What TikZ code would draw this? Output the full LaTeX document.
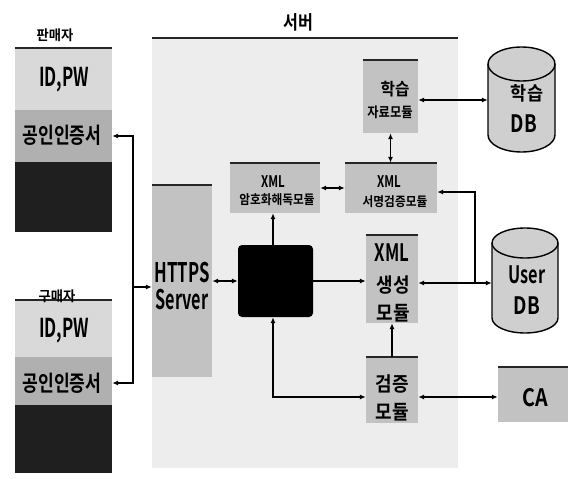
\documentclass[tikz,border=0pt]{standalone}
\usepackage{fontspec}
\usepackage{graphicx}
\setmainfont{Noto Sans CJK KR}[BoldFont={Noto Sans CJK KR Bold}]
\usetikzlibrary{arrows.meta,calc}
\newcommand{\fs}[3]{{\fontsize{#1}{#1}\selectfont\bfseries\scalebox{#2}[1]{#3}}}
\begin{document}
\begin{tikzpicture}[x=1pt,y=-1pt,
  region/.style={fill=gray!14,inner sep=0pt},
  modbox/.style={fill=gray!48,inner sep=0pt},
  light/.style={fill=gray!30,inner sep=0pt},
  mid/.style={fill=gray!62,inner sep=0pt},
  dark/.style={fill=black!88,inner sep=0pt},
  topbar/.style={line width=2.5pt,draw=black!85},
  lbl/.style={inner sep=0pt,text=black},
  cyl/.style={fill=gray!38,draw=black,line width=1.4pt},
  conn/.style={line width=1.2pt,draw=black},
  >={Latex[length=6pt,width=5pt]}]
\useasboundingbox (0,0) rectangle (576,479);
% server region
\node[region,minimum width=306pt,minimum height=430pt] (srv) at (305,253) {};
\draw[topbar] (srv.north west) -- (srv.north east);
\node[lbl] (srvT) at (298,22) {\fs{19}{0.85}{서버}};
% seller
\node[light,minimum width=97pt,minimum height=62pt] (s1) at (63.5,79) {};
\node[mid,minimum width=97pt,minimum height=52pt] (s2) at (63.5,136) {};
\node[dark,minimum width=97pt,minimum height=70pt] (s3) at (63.5,197) {};
\draw[topbar] (s1.north west) -- (s1.north east);
\node[lbl] (sT) at (55,35) {\fs{14}{0.95}{판매자}};
\node[lbl] (s1T) at (64,80) {\fs{26}{0.65}{ID,PW}};
\node[lbl] (s2T) at (62,135) {\fs{22}{0.78}{공인인증서}};
% buyer
\node[light,minimum width=97pt,minimum height=57pt] (b1) at (63.5,328.5) {};
\node[mid,minimum width=97pt,minimum height=48pt] (b2) at (63.5,381) {};
\node[dark,minimum width=97pt,minimum height=68pt] (b3) at (63.5,439) {};
\draw[topbar] (b1.north west) -- (b1.north east);
\node[lbl] (bT) at (57,296) {\fs{14}{0.95}{구매자}};
\node[lbl] (b1T) at (64,331) {\fs{26}{0.65}{ID,PW}};
\node[lbl] (b2T) at (62,383) {\fs{22}{0.78}{공인인증서}};
% HTTPS server
\node[modbox,minimum width=60pt,minimum height=192pt] (https) at (182,281) {};
\draw[topbar] (https.north west) -- (https.north east);
\node[lbl] (httpsT1) at (182,273) {\fs{27}{0.62}{HTTPS}};
\node[lbl] (httpsT2) at (182,300) {\fs{27}{0.6}{Server}};
% black box
\node[fill=black,rounded corners=4pt,minimum width=75pt,minimum height=72pt,inner sep=0pt] (blk) at (275.5,281) {};
% modules
\node[modbox,minimum width=90pt,minimum height=50pt] (enc) at (275,188) {};
\draw[topbar] (enc.north west) -- (enc.north east);
\node[lbl] (encT1) at (273,182) {\fs{16}{0.72}{XML}};
\node[lbl] (encT2) at (277,200) {\fs{13}{0.9}{암호화해독모듈}};
\node[modbox,minimum width=92pt,minimum height=50pt] (sig) at (391,188) {};
\draw[topbar] (sig.north west) -- (sig.north east);
\node[lbl] (sigT1) at (389,182) {\fs{16}{0.72}{XML}};
\node[lbl] (sigT2) at (395,202) {\fs{13}{0.9}{서명검증모듈}};
\node[modbox,minimum width=55pt,minimum height=73pt] (learn) at (390.5,96.5) {};
\draw[topbar] (learn.north west) -- (learn.north east);
\node[lbl] (learnT1) at (395,89) {\fs{17}{0.92}{학습}};
\node[lbl] (learnT2) at (390,112) {\fs{14}{0.88}{자료모듈}};
\node[modbox,minimum width=52pt,minimum height=88pt] (gen) at (392,279) {};
\draw[topbar] (gen.north west) -- (gen.north east);
\node[lbl] (genT1) at (392,253) {\fs{24}{0.7}{XML}};
\node[lbl] (genT2) at (393,285) {\fs{20}{0.9}{생성}};
\node[lbl] (genT3) at (393,313) {\fs{20}{0.9}{모듈}};
\node[modbox,minimum width=52pt,minimum height=66pt] (ver) at (392,390) {};
\draw[topbar] (ver.north west) -- (ver.north east);
\node[lbl] (verT1) at (392,384) {\fs{20}{0.9}{검증}};
\node[lbl] (verT2) at (392,412) {\fs{20}{0.9}{모듈}};
% CA
\node[modbox,minimum width=70pt,minimum height=55pt] (ca) at (533,394.5) {};
\draw[topbar] (ca.north west) -- (ca.north east);
\node[lbl] (caT) at (535,398) {\fs{24}{0.82}{CA}};
% learning DB cylinder
\node[inner sep=0pt,minimum width=67pt,minimum height=105pt] (hdb) at (521.5,99.5) {};
\draw[cyl] (488,64) -- (488,135) arc[start angle=180,end angle=360,x radius=33.5pt,y radius=17pt]
  -- (555,64) arc[start angle=0,end angle=180,x radius=33.5pt,y radius=17pt] -- cycle;
\draw[line width=1.4pt] (488,64) arc[start angle=180,end angle=360,x radius=33.5pt,y radius=17pt];
\node[lbl] (hdbT1) at (527,93) {\fs{19}{0.92}{학습}};
\node[lbl] (hdbT2) at (524,124) {\fs{24}{0.78}{DB}};
% user DB cylinder
\node[inner sep=0pt,minimum width=66pt,minimum height=105pt] (udb) at (525,280.5) {};
\draw[cyl] (492,243) -- (492,318) arc[start angle=180,end angle=360,x radius=33pt,y radius=15pt]
  -- (558,243) arc[start angle=0,end angle=180,x radius=33pt,y radius=15pt] -- cycle;
\draw[line width=1.4pt] (492,243) arc[start angle=180,end angle=360,x radius=33pt,y radius=15pt];
\node[lbl] (udbT1) at (527,275) {\fs{24}{0.68}{User}};
\node[lbl] (udbT2) at (527,306) {\fs{24}{0.78}{DB}};
% connectors
\coordinate (lj) at (133,287);
\draw[conn,<->] (s2.east) -| (lj) |- (b2T.east -| b2.east);
\draw[conn,->] (lj) -- (lj -| https.west);
\draw[conn,<->] (https.east |- blk.east) -- (blk.west);
\draw[conn,->] (blk.north -| 273,0) -- (enc.south -| 273,0);
\draw[conn,<->] (enc.east) -- (sig.west);
\draw[conn,<->] (learn.south) -- (learn.south |- sig.north);
\draw[conn,<->] (learn.east |- 0,100) -- (hdb.west |- 0,100);
\draw[conn,->] (blk.east) -- (gen.west |- blk.east);
\draw[conn,<->] (blk.south -| 273,0) |- (ver.west |- 0,397);
\draw[conn,->] (ver.north) -- (gen.south);
\draw[conn,<->] (gen.east |- 0,283) -- (udb.west |- 0,283);
\coordinate (uj) at (475,283);
\draw[conn,<-] (sig.east |- 0,192) -| (uj);
\draw[conn,<->] (ver.east |- 0,397) -- (ca.west |- 0,397);
\end{tikzpicture}
\end{document}
